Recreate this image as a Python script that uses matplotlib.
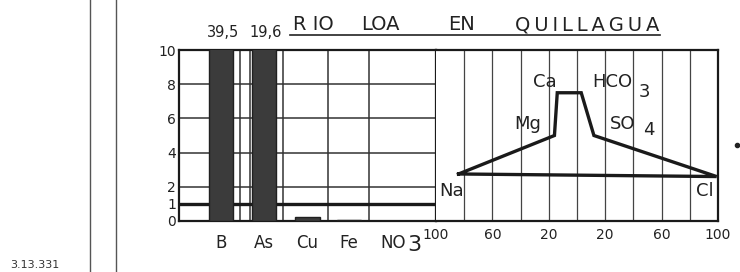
import numpy as np
from matplotlib import pyplot as plt
from matplotlib.lines import Line2D

# left panel: trace elements (mg/l)
elements = ['B', 'As', 'Cu', 'Fe', 'NO3']
values = [39.5, 19.6, 0.25, 0.05, 0.0]
overflow = ['39,5', '19,6']
ref_level = 1.0
y_ticks = [0, 1, 2, 4, 6, 8, 10]

# right panel: Stiff-type diagram (meq %)
ions = ['Na', 'Mg', 'Ca', 'HCO3', 'SO4', 'Cl']
ion_x = [-84, -16, -14, 3, 12, 99]
ion_y = [2.75, 5.0, 7.5, 7.5, 5.0, 2.6]
pct_ticks = [-100, -60, -20, 20, 60, 100]
pct_labels = ['100', '60', '20', '20', '60', '100']

W, H = 740, 272
fig = plt.figure(figsize=(W / 100, H / 100), dpi=100)
fig.patch.set_facecolor('white')
plt.rcParams['font.family'] = 'DejaVu Sans'

axL = fig.add_axes([179 / W, 51 / H, 257 / W, 171 / H])
axR = fig.add_axes([436 / W, 51 / H, 282 / W, 171 / H])

ink = '#1a1a1a'

####### left panel
pos = [1.0, 2.02, 3.06, 4.05, 5.1]
axL.set_xlim(0, 6.12)
axL.set_ylim(0, 10)
for yy in [2, 4, 6, 8]:
    axL.axhline(yy, color='#333333', lw=1.1, zorder=1)
for xx in [1.45, 1.69, 2.48, 3.55, 4.52]:
    axL.axvline(xx, color='#333333', lw=1.1, zorder=1)
axL.axhline(ref_level, color=ink, lw=2.4, zorder=2)
axL.bar(pos, values, width=0.58, color='#3b3b3b', edgecolor='#202020', lw=1, zorder=3)

axL.set_yticks(y_ticks)
axL.set_yticklabels([str(t) for t in y_ticks], fontsize=10, color='#222222')
axL.tick_params(axis='y', length=0, pad=2)
axL.set_xticks(pos)
axL.set_xticklabels(elements[:4] + ['NO'], fontsize=12, color='#222222')
axL.tick_params(axis='x', length=0, pad=9)
axL.text(5.6, -0.14, '3', transform=axL.get_xaxis_transform(), fontsize=16,
         ha='center', va='center', color='#222222')
for s in axL.spines.values():
    s.set_linewidth(1.6)
    s.set_color(ink)

for p, t in zip(pos[:2], overflow):
    axL.text(p + 0.05, 1.06, t, transform=axL.get_xaxis_transform(), fontsize=10.5,
             ha='center', va='bottom', color='#222222')

####### right panel
axR.set_xlim(-100, 100)
axR.set_ylim(0, 10)
for xx in range(-80, 100, 20):
    axR.axvline(xx, color='#444444', lw=0.9, zorder=1)
px = ion_x + [ion_x[0]]
py = ion_y + [ion_y[0]]
axR.plot(px, py, color=ink, lw=2.4, solid_joinstyle='miter', zorder=3)
axR.set_xticks(pct_ticks)
axR.set_xticklabels(pct_labels, fontsize=10, color='#222222')
axR.tick_params(axis='x', length=0, pad=5)
axR.set_yticks([])
for s in axR.spines.values():
    s.set_linewidth(1.6)
    s.set_color(ink)
axR.spines['left'].set_visible(False)

lab = dict(fontsize=13, color='#222222', ha='center', va='center')
axR.text(-89, 1.75, 'Na', **lab)
axR.text(-23, 8.1, 'Ca', **lab)
axR.text(-35, 5.67, 'Mg', **lab)
axR.text(25, 8.1, 'HCO', **lab)
axR.text(47.5, 7.56, '3', **lab)
axR.text(32.5, 5.67, 'SO', **lab)
axR.text(51, 5.3, '4', **lab)
axR.text(91, 1.75, 'Cl', **lab)

####### title
ty = 1 - 25 / H
for word, cx in [('R IO', 313), ('LOA', 380), ('EN', 461),
                 ('Q\u2009U\u2009I\u2009L\u2009L\u2009A\u2009G\u2009U\u2009A', 587)]:
    fig.text(cx / W, ty, word, fontsize=14, ha='center', va='center', color='#222222')
fig.add_artist(Line2D([290 / W, 660 / W], [1 - 35 / H, 1 - 35 / H], color='#222222', lw=1.2))

####### scan leftovers
for xx in [90, 116]:
    fig.add_artist(Line2D([xx / W, xx / W], [0, 1], color='#555555', lw=1.0))
fig.text(10 / W, 2 / H, '3.13.331', fontsize=8, ha='left', va='bottom', color='#333333')
fig.add_artist(Line2D([737 / W], [1 - 145 / H], marker='o', ms=3, color='#222222', lw=0))

fig.savefig('out.png', dpi=100, facecolor='white')
